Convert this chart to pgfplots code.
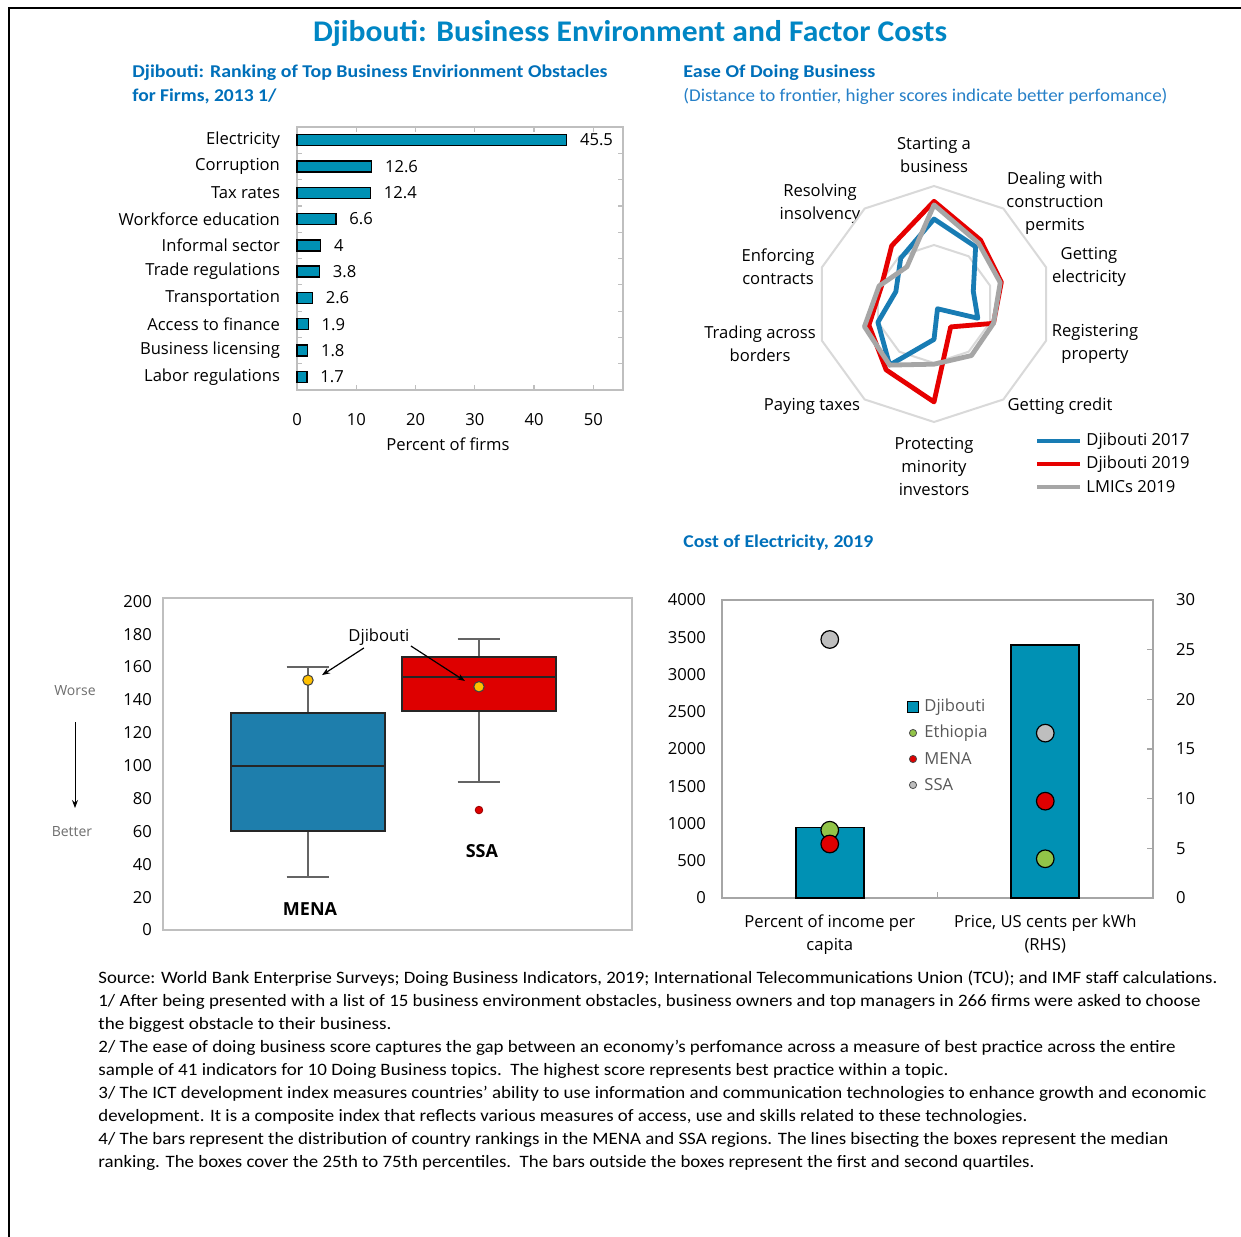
\documentclass[border=0pt]{standalone}
\usepackage{fontspec}
\setmainfont{Carlito}
\newfontfamily\chartfont{Open Sans}
\usepackage{graphicx}
\usepackage{pgfplots}
\pgfplotsset{compat=1.18}
\usepgfplotslibrary{polar}
\usetikzlibrary{arrows.meta}

\definecolor{titleblue}{RGB}{0,134,196}
\definecolor{headblue}{RGB}{0,112,186}
\definecolor{subblue}{RGB}{38,128,200}
\definecolor{barteal}{RGB}{0,145,180}
\definecolor{djsev}{RGB}{24,124,180}
\definecolor{djnin}{RGB}{230,0,0}
\definecolor{lmic}{RGB}{166,166,166}
\definecolor{gridgray}{RGB}{217,217,217}
\definecolor{framegray}{RGB}{191,191,191}
\definecolor{menablue}{RGB}{30,126,172}
\definecolor{ssared}{RGB}{222,0,0}
\definecolor{djyellow}{RGB}{255,192,0}
\definecolor{ethgreen}{RGB}{146,196,72}
\definecolor{ssagray}{RGB}{190,190,190}
\definecolor{legendgray}{RGB}{89,89,89}
\definecolor{notegray}{RGB}{110,110,110}
\definecolor{whiskergray}{RGB}{100,100,100}

\newcommand\cf{\chartfont\fontsize{8.3pt}{11.5pt}\selectfont}
\newcommand\fitw[2]{\resizebox{#1}{\height}{#2}}

\pgfplotsset{
  every axis/.append style={
    /pgf/number format/assume math mode=true,
    /pgf/number format/1000 sep={},
    tick label style={font=\cf, text=black},
    label style={font=\cf},
    scale only axis,
    clip=false,
  },
  whisker/.style={draw=whiskergray, line width=1pt},
  boxedge/.style={draw=black!85, line width=1pt},
}

\begin{document}
\begin{tikzpicture}
\useasboundingbox (0,0) rectangle (620.5pt,-618pt);
\fill[white] (0,0) rectangle (620.5pt,-618pt);

% ---------------- text, frame and hand-placed annotations ----------------
\begin{scope}[x=0.5pt,y=-0.5pt]
  \draw[line width=1pt] (9,1240) -- (9,8) -- (1245,8);

  \node[text=titleblue, font=\fontsize{15pt}{18pt}\selectfont\bfseries] at (630,33)
    {\fitw{317pt}{Djibouti: Business Environment and Factor Costs}};

  \begin{scope}[every node/.style={anchor=west, inner sep=0pt, text=headblue, font=\fontsize{9pt}{11pt}\selectfont\bfseries}]
    \node at (132,73) {\fitw{237.5pt}{Djibouti: Ranking of Top Business Envirionment Obstacles}};
    \node at (132,96) {\fitw{72pt}{for Firms, 2013 1/}};
    \node at (683,73) {\fitw{96pt}{Ease Of Doing Business}};
    \node at (683,543) {\fitw{95pt}{Cost of Electricity, 2019}};
  \end{scope}
  \node[anchor=west, inner sep=0pt, text=subblue, font=\fontsize{9pt}{11pt}\selectfont] at (683,96)
    {\fitw{242pt}{(Distance to frontier, higher scores indicate better perfomance)}};

  % radar category labels
  \begin{scope}[every node/.style={align=center, font=\cf}]
    \node at (934,155) {Starting a\\business};
    \node at (1055,203) {Dealing with\\construction\\permits};
    \node at (1089,267) {Getting\\electricity};
    \node at (1095,344) {Registering\\property};
    \node at (1060,406) {Getting credit};
    \node at (934,466) {Protecting\\minority\\investors};
    \node at (812,406) {Paying taxes};
    \node at (760,344) {Trading across\\borders};
    \node at (778,267) {Enforcing\\contracts};
    \node at (820,204) {Resolving\\insolvency};
  \end{scope}

  % radar legend
  \draw[djsev, line width=2pt] (1037,441) -- (1080,441);
  \draw[djnin, line width=2pt] (1037,464) -- (1080,464);
  \draw[lmic,  line width=2pt] (1037,487) -- (1080,487);
  \begin{scope}[every node/.style={anchor=west, inner sep=0pt, font=\cf}]
    \node at (1086,441) {Djibouti 2017};
    \node at (1086,464) {Djibouti 2019};
    \node at (1086,487) {LMICs 2019};
  \end{scope}

  % ranking direction note
  \node[font=\chartfont\fontsize{7pt}{8pt}\selectfont, text=notegray] at (75,691) {Worse};
  \draw[-{Stealth[length=4pt,width=3pt]}, line width=0.5pt] (75,722) -- (75,808);
  \node[font=\chartfont\fontsize{7pt}{8pt}\selectfont, text=notegray] at (72,832) {Better};

  % electricity cost legend
  \node[draw=black, fill=barteal, minimum size=5.5pt, inner sep=0pt, line width=0.5pt] at (913,707) {};
  \fill[ethgreen, draw=black!70] (913,733) circle (1.8pt);
  \fill[ssared, draw=black!70] (913,759) circle (1.8pt);
  \fill[ssagray, draw=black!70] (913,785) circle (1.8pt);
  \begin{scope}[every node/.style={anchor=west, inner sep=0pt, font=\cf, text=legendgray}]
    \node at (924,707) {Djibouti};
    \node at (924,733) {Ethiopia};
    \node at (924,759) {MENA};
    \node at (924,785) {SSA};
  \end{scope}

  % notes
  \begin{scope}[every node/.style={anchor=west, inner sep=0pt, font=\fontsize{8.7pt}{10pt}\selectfont}]
    \node at (98,979) {\fitw{559.5pt}{Source: World Bank Enterprise Surveys; Doing Business Indicators, 2019; International Telecommunications Union (TCU); and IMF staff calculations.}};
    \node at (98,1002) {\fitw{551pt}{1/ After being presented with a list of 15 business environment obstacles, business owners and top managers in 266 firms were asked to choose}};
    \node at (98,1025) {\fitw{146.5pt}{the biggest obstacle to their business.}};
    \node at (98,1048) {\fitw{538.5pt}{2/ The ease of doing business score captures the gap between an economy's perfomance across a measure of best practice across the entire}};
    \node at (98,1071) {\fitw{425pt}{sample of 41 indicators for 10 Doing Business topics.\ \ The highest score represents best practice within a topic.}};
    \node at (98,1094) {\fitw{554pt}{3/ The ICT development index measures countries' ability to use information and communication technologies to enhance growth and economic}};
    \node at (98,1117) {\fitw{464.5pt}{development. It is a composite index that reflects various measures of access, use and skills related to these technologies.}};
    \node at (98,1140) {\fitw{535pt}{4/ The bars represent the distribution of country rankings in the MENA and SSA regions. The lines bisecting the boxes represent the median}};
    \node at (98,1163) {\fitw{468pt}{ranking. The boxes cover the 25th to 75th percentiles.\ \ The bars outside the boxes represent the first and second quartiles.}};
  \end{scope}
\end{scope}

% ---------------- obstacles ranking ----------------
\begin{axis}[
  at={(148.5pt,-63.5pt)}, anchor=north west,
  width=163pt, height=131.5pt,
  xbar, bar width=5.5pt,
  xmin=0, xmax=55, ymin=-0.5, ymax=9.5, y dir=reverse,
  ytick={0,...,9},
  yticklabels={Electricity, Corruption, Tax rates, Workforce education, Informal sector,
    Trade regulations, Transportation, Access to finance, Business licensing, Labor regulations},
  minor ytick={0.5,1.5,...,8.5},
  xtick={0,10,...,50},
  axis line style={draw=framegray, line width=0.8pt},
  tick align=inside,
  major tick length=2.5pt, minor tick length=2.5pt,
  every major x tick/.append style={draw=framegray, line width=0.6pt},
  every major y tick/.append style={draw=none},
  every minor y tick/.append style={draw=framegray, line width=0.6pt},
  yticklabel style={xshift=-5pt},
  xticklabel style={yshift=-8pt},
  xlabel={Percent of firms},
  xlabel style={at={(axis description cs:0.463,0)}, anchor=center, yshift=-27pt},
  point meta=x,
  nodes near coords,
  nodes near coords align=horizontal,
  every node near coord/.append style={font=\cf, text=black, xshift=3pt},
]
\addplot[fill=barteal, draw=black, line width=0.7pt] coordinates {
  (45.5,0) (12.6,1) (12.4,2) (6.6,3) (4,4) (3.8,5) (2.6,6) (1.9,7) (1.8,8) (1.7,9)};
\end{axis}

% ---------------- ease of doing business radar ----------------
\begin{polaraxis}[
  at={(467pt,-152pt)}, anchor=origin,
  width=118pt, height=118pt,
  ymin=0, ymax=100,
  hide axis,
]
\addplot[gridgray, line width=1pt] coordinates {
  (90,100) (54,100) (18,100) (342,100) (306,100) (270,100) (234,100) (198,100) (162,100) (126,100)} -- cycle;
\addplot[gridgray, line width=1pt] coordinates {
  (90,50) (54,50) (18,50) (342,50) (306,50) (270,50) (234,50) (198,50) (162,50) (126,50)} -- cycle;
% Djibouti 2017
\addplot[djsev, line width=2.4pt, line join=round] coordinates {
  (90,72) (54,60) (18,35) (342,39) (306,5) (270,30) (234,64) (198,50) (162,34) (126,48)} -- cycle;
% Djibouti 2019
\addplot[djnin, line width=2.4pt, line join=round] coordinates {
  (90,87) (54,67) (18,60) (342,53) (306,24) (270,83) (234,69) (198,58) (162,47) (126,61)} -- cycle;
% LMICs 2019
\addplot[lmic, line width=2.4pt, line join=round] coordinates {
  (90,84) (54,64) (18,59) (342,53) (306,54) (270,51) (234,64) (198,62) (162,49) (126,39)} -- cycle;
\end{polaraxis}

% ---------------- ranking distribution box plot ----------------
% boxes span draw position +/- 0.453, whisker caps +/- 0.125
\begin{axis}[
  at={(81.5pt,-465pt)}, anchor=south west,
  width=234.5pt, height=166pt,
  xmin=0.152, xmax=2.895, ymin=0, ymax=202,
  xtick=\empty, ytick={0,20,...,200},
  axis line style={draw=framegray, line width=1pt},
  major tick length=0pt,
  yticklabel style={xshift=-2pt},
]
% MENA: whiskers 32 / 160, quartiles 60 / 132, median 100
\addplot[whisker] coordinates {(1,132) (1,160)};
\addplot[whisker] coordinates {(0.875,160) (1.125,160)};
\addplot[whisker] coordinates {(1,60) (1,32)};
\addplot[whisker] coordinates {(0.875,32) (1.125,32)};
\addplot[boxedge, fill=menablue] coordinates {(0.547,60) (1.453,60) (1.453,132) (0.547,132)} -- cycle;
\addplot[boxedge] coordinates {(0.547,100) (1.453,100)};
% SSA: whiskers 90 / 177, quartiles 133 / 166, median 154
\addplot[whisker] coordinates {(2,166) (2,177)};
\addplot[whisker] coordinates {(1.875,177) (2.125,177)};
\addplot[whisker] coordinates {(2,133) (2,90)};
\addplot[whisker] coordinates {(1.875,90) (2.125,90)};
\addplot[boxedge, fill=ssared] coordinates {(1.547,133) (2.453,133) (2.453,166) (1.547,166)} -- cycle;
\addplot[boxedge] coordinates {(1.547,154) (2.453,154)};
% SSA outlier
\addplot[only marks, mark=*, mark size=1.9pt, mark options={fill=ssared, draw=black!40!red, line width=0.4pt}]
  coordinates {(2,73)};
% Djibouti's rank in each region
\addplot[only marks, mark=*, mark size=2.6pt, mark options={fill=djyellow, draw=black!75, line width=0.5pt}]
  coordinates {(1,152) (2,148)};
\node[font=\chartfont\bfseries\fontsize{9pt}{11pt}\selectfont] at (axis cs:1.012,12.8) {MENA};
\node[font=\chartfont\bfseries\fontsize{9pt}{11pt}\selectfont] at (axis cs:2.017,48) {SSA};
\node[font=\cf] at (axis cs:1.415,178.3) {Djibouti};
\draw[-{Stealth[length=4pt,width=3pt]}, line width=0.6pt] (axis cs:1.327,171.6) -- (axis cs:1.082,155.1);
\draw[-{Stealth[length=4pt,width=3pt]}, line width=0.6pt] (axis cs:1.602,172.8) -- (axis cs:1.918,151.5);
\end{axis}

% ---------------- cost of electricity: left axis ----------------
\begin{axis}[
  at={(361pt,-449pt)}, anchor=south west,
  width=215.5pt, height=149pt,
  xmin=0.5, xmax=2.5, ymin=0, ymax=4000,
  ytick={0,500,...,4000}, ytick pos=left,
  scaled y ticks=false,
  xtick={1,2},
  xticklabels={{Percent of income per\\capita}, {Price, US cents per kWh\\(RHS)}},
  xticklabel style={align=center, yshift=-5pt},
  axis line style={draw=lmic, line width=0.8pt},
  major tick length=0pt,
  yticklabel style={xshift=-4.5pt},
]
% category separator tick
\draw[lmic, line width=0.8pt] (axis cs:1.5,0) -- ([yshift=3pt]axis cs:1.5,0);
\addplot[ybar, bar width=34pt, fill=barteal, draw=black, line width=0.8pt] coordinates {(1,946)};
\addplot[only marks, mark=*, mark size=4.4pt, mark options={fill=ethgreen, draw=black, line width=0.6pt}] coordinates {(1,910)};
\addplot[only marks, mark=*, mark size=4.4pt, mark options={fill=ssared, draw=black, line width=0.6pt}] coordinates {(1,725)};
\addplot[only marks, mark=*, mark size=4.4pt, mark options={fill=ssagray, draw=black, line width=0.6pt}] coordinates {(1,3470)};
\end{axis}

% ---------------- cost of electricity: right axis ----------------
\begin{axis}[
  at={(361pt,-449pt)}, anchor=south west,
  width=215.5pt, height=149pt,
  xmin=0.5, xmax=2.5, ymin=0, ymax=30,
  axis y line*=right, axis x line=none, xtick=\empty,
  ytick={0,5,...,30},
  y axis line style={draw=lmic, line width=0.8pt},
  tick align=inside, major tick length=3pt,
  ytick style={draw=lmic, line width=0.8pt},
  yticklabel style={xshift=8pt},
]
\addplot[ybar, bar width=34pt, fill=barteal, draw=black, line width=0.8pt] coordinates {(2,25.5)};
\addplot[only marks, mark=*, mark size=4.4pt, mark options={fill=ethgreen, draw=black, line width=0.6pt}] coordinates {(2,3.95)};
\addplot[only marks, mark=*, mark size=4.4pt, mark options={fill=ssared, draw=black, line width=0.6pt}] coordinates {(2,9.75)};
\addplot[only marks, mark=*, mark size=4.4pt, mark options={fill=ssagray, draw=black, line width=0.6pt}] coordinates {(2,16.6)};
\end{axis}
\end{tikzpicture}
\end{document}
